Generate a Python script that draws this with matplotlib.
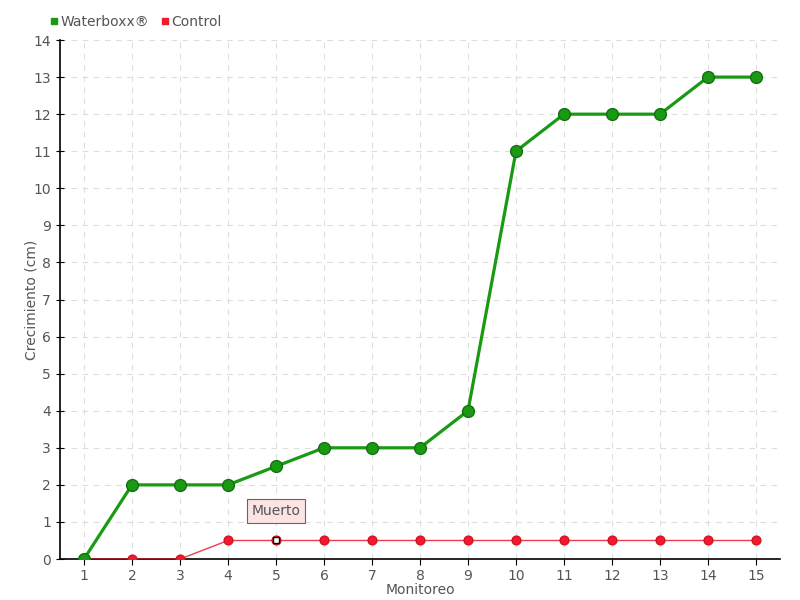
import matplotlib
matplotlib.use("Agg")
import matplotlib.pyplot as plt
from matplotlib.lines import Line2D

monitoreo = list(range(1, 16))
waterboxx = [0, 2, 2, 2, 2.5, 3, 3, 3, 4, 11, 12, 12, 12, 13, 13]
control = [0, 0, 0, 0.5, 0.5, 0.5, 0.5, 0.5, 0.5, 0.5, 0.5, 0.5, 0.5, 0.5, 0.5]
muerto_idx = 4  # monitoreo 5

GREEN = "#1a9a12"
RED = "#ee1b2e"
TXT = "#555555"

plt.rcParams["font.family"] = ["DejaVu Sans"]
fig = plt.figure(figsize=(8, 6), dpi=100)
ax = fig.add_axes([0.075, 0.0683, 0.9, 0.865])

ax.plot(monitoreo, control, color=RED, lw=1, zorder=3, alpha=0.85)
ax.plot(monitoreo, control, "o", ms=6.5, color=RED, mec="#d01020", mew=0.8, zorder=4)
ax.plot(monitoreo, waterboxx, color=GREEN, lw=2.3, zorder=5)
ax.plot(monitoreo, waterboxx, "o", ms=8.5, color=GREEN, mec="#137010", mew=1, zorder=6)
# dead plant marker
ax.plot(monitoreo[muerto_idx], control[muerto_idx], "s", ms=4, mfc="white",
        mec="black", mew=1, zorder=7)
ax.annotate("Muerto", xy=(monitoreo[muerto_idx], control[muerto_idx]),
            xytext=(0, 21), textcoords="offset points", ha="center", va="center",
            fontsize=10, color=TXT, zorder=8,
            bbox=dict(boxstyle="square,pad=0.35", fc="#fde4e4", ec="#666666", lw=0.8))

ax.set_xlim(0.5, 15.5)
ax.set_ylim(0, 14)
ax.set_xticks(monitoreo)
ax.set_yticks(range(0, 15))
ax.tick_params(axis="both", labelsize=10, labelcolor=TXT, color="black", length=4)
ax.tick_params(axis="y", direction="inout", length=6)
ax.grid(True, ls=(0, (5, 5)), color="#dddddd", lw=0.8)
ax.set_axisbelow(True)
for s in ["top", "right"]:
    ax.spines[s].set_visible(False)
ax.spines["left"].set_linewidth(1.2)
ax.spines["bottom"].set_linewidth(1.2)

ax.set_xlabel("Monitoreo", fontsize=10, color=TXT, labelpad=0)
ax.set_ylabel("Crecimiento (cm)", fontsize=10, color=TXT)
ax.yaxis.set_label_coords(-0.03, 0.5)

# legend
handles = [Line2D([], [], marker="s", ls="", color=GREEN, ms=5, label="Waterboxx®"),
           Line2D([], [], marker="s", ls="", color=RED, ms=5, label="Control")]
leg = fig.legend(handles=handles, loc="center left", bbox_to_anchor=(0.055, 0.963),
                 ncol=2, frameon=False, fontsize=10, handlelength=0.6,
                 handletextpad=0.2, columnspacing=0.8, borderaxespad=0)
for t in leg.get_texts():
    t.set_color(TXT)

fig.savefig("out.png", dpi=100)
